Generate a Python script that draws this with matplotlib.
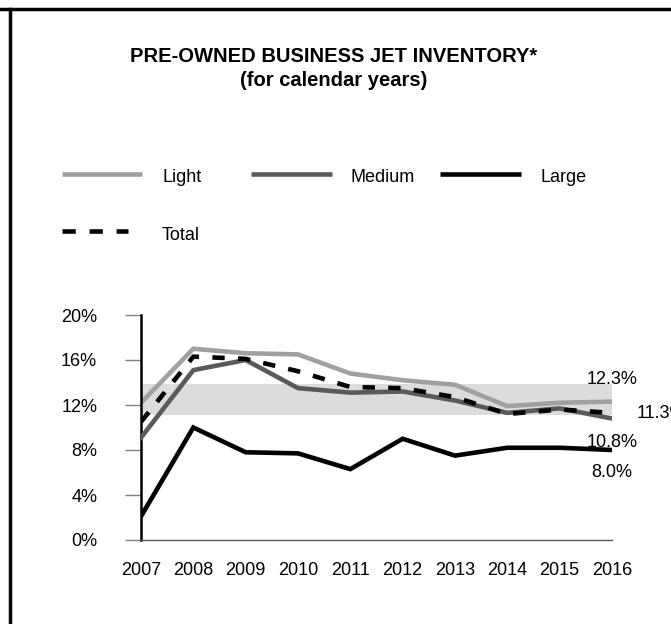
import matplotlib.pyplot as plt
from matplotlib.lines import Line2D

plt.rcParams['font.family'] = ['Liberation Sans', 'DejaVu Sans']

years = [2007, 2008, 2009, 2010, 2011, 2012, 2013, 2014, 2015, 2016]
light = [12.2, 17.0, 16.6, 16.5, 14.8, 14.2, 13.8, 11.9, 12.2, 12.3]
medium = [9.1, 15.1, 16.0, 13.5, 13.1, 13.2, 12.4, 11.3, 11.7, 10.8]
large = [2.1, 10.0, 7.8, 7.7, 6.3, 9.0, 7.5, 8.2, 8.2, 8.0]
total = [10.5, 16.3, 16.1, 15.0, 13.6, 13.5, 12.7, 11.2, 11.6, 11.3]
band_low, band_high = 11.1, 13.9

W, H = 671, 624
fig = plt.figure(figsize=(W / 100, H / 100), dpi=100)
ax = fig.add_axes([141 / W, 84 / H, 471 / W, 225 / H])

LW = 3.3
ax.fill_between(years, band_low, band_high, color='#dcdcdc', lw=0, zorder=1)
ax.plot(years, light, color='#a0a0a0', lw=LW, solid_joinstyle='miter', zorder=2)
ax.plot(years, medium, color='#5a5a5a', lw=LW, solid_joinstyle='miter', zorder=3)
ax.plot(years, large, color='black', lw=LW, solid_joinstyle='miter', zorder=3)
ax.plot(years, total, color='black', lw=LW, dashes=(2.7, 2.9), zorder=4)

ax.set_xlim(2007, 2016)
ax.set_ylim(0, 20)
ax.set_yticks([0, 4, 8, 12, 16, 20])
ax.set_yticklabels(['0%', '4%', '8%', '12%', '16%', '20%'])
ax.set_xticks(years)
ax.tick_params(axis='x', length=0, pad=16, labelsize=13)
ax.tick_params(axis='y', length=11.5, width=1, color='#808080', direction='out', pad=20, labelsize=13)
for s in ['top', 'right']:
    ax.spines[s].set_visible(False)
ax.spines['left'].set_linewidth(1.8)
ax.spines['bottom'].set_color('#555555')
ax.spines['bottom'].set_linewidth(1)

# end-of-series value labels
ax.text(2016, 14.3, '12.3%', ha='center', va='center', fontsize=13)
ax.text(2016.47, 11.2, '11.3%', ha='left', va='center', fontsize=13, clip_on=False)
ax.text(2016, 8.7, '10.8%', ha='center', va='center', fontsize=13)
ax.text(2016, 6.0, '8.0%', ha='center', va='center', fontsize=13)

fig.text(0.497, 1 - 57 / H, 'PRE-OWNED BUSINESS JET INVENTORY*', ha='center', va='center',
         fontsize=14.5, fontweight='bold')
fig.text(0.497, 1 - 81 / H, '(for calendar years)', ha='center', va='center',
         fontsize=14.5, fontweight='bold')

# legend drawn by hand in figure coordinates
leg = [('Light', '#a0a0a0', False, 62, 142, 162, 174),
       ('Medium', '#5a5a5a', False, 251, 332, 351, 174),
       ('Large', 'black', False, 440, 521, 540, 174),
       ('Total', 'black', True, 62, 128, 162, 231)]
for name, c, dashed, x0, x1, tx, y in leg:
    ln = Line2D([x0 / W, x1 / W], [1 - y / H, 1 - y / H], color=c, lw=LW,
                solid_capstyle='butt', dash_capstyle='butt', transform=fig.transFigure)
    if dashed:
        ln.set_dashes((2.9, 3.0))
    fig.add_artist(ln)
    fig.text(tx / W, 1 - (y + 4) / H, name, ha='left', va='center', fontsize=13)

# page frame
fig.add_artist(Line2D([0, 1], [1 - 9 / H, 1 - 9 / H], color='black', lw=2.5,
                      transform=fig.transFigure))
fig.add_artist(Line2D([10 / W, 10 / W], [0, 1 - 9 / H], color='black', lw=2.5,
                      transform=fig.transFigure))

fig.savefig('out.png', dpi=100)
